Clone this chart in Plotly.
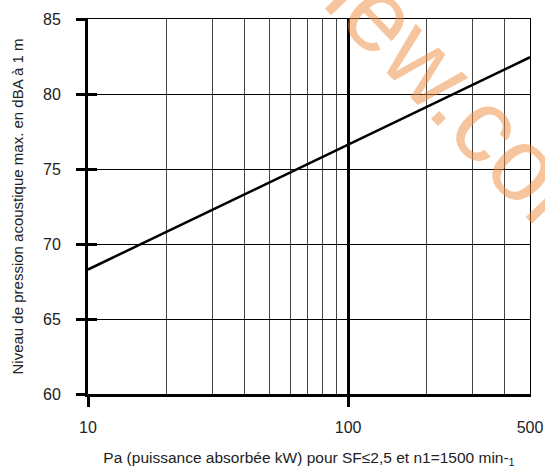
import plotly.graph_objects as go

# Data
pa_kw = [10, 100, 500]
noise_dba = [68.3, 76.6, 82.45]

x_major_ticks = [10, 100]
x_labels = [10, 100, 500]
x_minor_grid = [20, 30, 40, 50, 60, 70, 80, 90, 200, 300, 400]
y_ticks = [60, 65, 70, 75, 80, 85]

FONT = "Liberation Sans"
xr = [1, 2.69897]
yr = [60, 85]

fig = go.Figure()
fig.add_trace(go.Scatter(x=pa_kw, y=noise_dba, mode="lines",
                         line=dict(color="black", width=2.5),
                         hoverinfo="skip", showlegend=False))
# invisible helper traces so overlay axes render
fig.add_trace(go.Scatter(x=[pa_kw[0]], y=[noise_dba[0]], xaxis="x2", yaxis="y2",
                         mode="markers", marker=dict(opacity=0), showlegend=False, hoverinfo="skip"))
fig.add_trace(go.Scatter(x=[pa_kw[0]], y=[noise_dba[0]], xaxis="x3", yaxis="y3",
                         mode="markers", marker=dict(opacity=0), showlegend=False, hoverinfo="skip"))

fig.update_layout(
    width=545, height=468,
    margin=dict(l=88, r=15, t=19, b=74, autoexpand=False),
    paper_bgcolor="white", plot_bgcolor="white",
    font=dict(family=FONT, color="#222"),
    xaxis=dict(
        type="log", range=xr, tickvals=x_major_ticks, showticklabels=False,
        ticks="outside", ticklen=10, tickwidth=3, tickcolor="black",
        showgrid=True, gridcolor="black", gridwidth=3,
        showline=True, linewidth=3, linecolor="black",
        minor=dict(tickvals=x_minor_grid, showgrid=True, gridcolor="#444", gridwidth=1, ticks=""),
        zeroline=False, fixedrange=True, automargin=False,
    ),
    xaxis2=dict(
        type="log", range=xr, overlaying="x", side="top", anchor="y2",
        showticklabels=False, ticks="", showgrid=False, automargin=False,
        showline=True, linewidth=1, linecolor="black", zeroline=False,
    ),
    xaxis3=dict(
        type="log", range=xr, overlaying="x", side="bottom", anchor="y3",
        tickvals=x_labels, ticktext=[str(v) for v in x_labels], ticks="",
        tickfont=dict(size=16, color="#222"), ticklabelstandoff=22,
        showgrid=False, showline=False, zeroline=False, automargin=False,
        title=dict(text="Pa (puissance absorbée kW) pour SF≤2,5 et n1=1500 min-<sub>1</sub>",
                   font=dict(size=15.5, color="#222"), standoff=17),
    ),
    yaxis=dict(
        range=yr, tickvals=y_ticks, ticks="outside", ticklen=9, tickwidth=3,
        tickcolor="black", tickfont=dict(size=16, color="#222"), ticklabelstandoff=12,
        showgrid=True, gridcolor="black", gridwidth=1, automargin=False,
        showline=True, linewidth=3, linecolor="black", zeroline=False,
        title=dict(text="Niveau de pression acoustique max. en dBA à 1 m",
                   font=dict(size=15, color="#222"), standoff=16),
    ),
    yaxis2=dict(
        range=yr, overlaying="y", side="left", anchor="x2", tickvals=y_ticks,
        ticks="inside", ticklen=9, tickwidth=3, tickcolor="black", automargin=False,
        showticklabels=False, showgrid=False, showline=False, zeroline=False,
    ),
    yaxis3=dict(
        range=yr, overlaying="y", side="right", anchor="x3", automargin=False,
        showticklabels=False, ticks="", showgrid=False,
        showline=True, linewidth=1, linecolor="black", zeroline=False,
    ),
    annotations=[dict(
        text="review.com", xref="paper", yref="paper", x=0.765, y=0.885,
        xanchor="center", yanchor="middle",
        showarrow=False, textangle=46,
        font=dict(family=FONT, size=104, color="rgba(240,140,60,0.5)"),
    )],
)

fig.write_html("out.html", config={"displayModeBar": False},
               post_script="document.body.style.margin='0';document.body.style.overflow='hidden';")
